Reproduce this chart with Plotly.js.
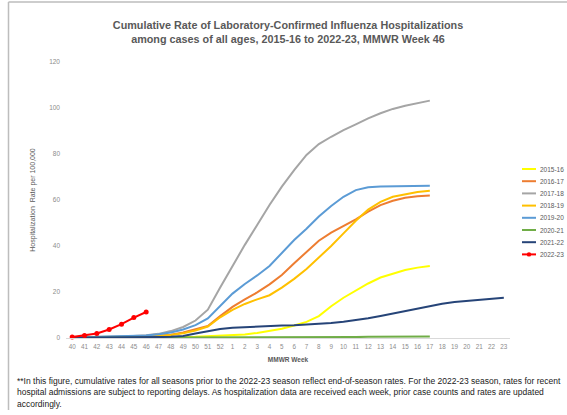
<!DOCTYPE html>
<html>
<head>
<meta charset="utf-8">
<script src="https://cdn.plot.ly/plotly-3.0.1.min.js"></script>
<style>
  html, body { margin: 0; padding: 0; background: #fff; }
  #chart { width: 567px; height: 415px; }
</style>
</head>
<body>
<div id="chart"></div>
<script>
// ---- DATA ----
const weeks = ['40','41','42','43','44','45','46','47','48','49','50','51','52',
               '1','2','3','4','5','6','7','8','9','10','11','12','13','14','15','16','17',
               '18','19','20','21','22','23'];

const seasons = ['2015-16','2016-17','2017-18','2018-19','2019-20','2020-21','2021-22','2022-23'];

const s2015_16 = [0.1,0.1,0.1,0.1,0.1,0.2,0.2,0.2,0.3,0.4,0.5,0.7,0.9,1.1,1.5,2.2,3.0,4.0,5.4,7.0,9.5,13.8,17.5,20.6,23.7,26.3,28.1,29.6,30.6,31.3];
const s2016_17 = [0.1,0.1,0.2,0.2,0.3,0.4,0.6,0.9,1.4,2.4,3.8,5.2,9.5,13.5,16.8,19.8,23.3,27.4,32.5,37.5,42.3,45.8,48.7,51.6,54.9,57.8,59.7,61.0,61.6,62.0];
const s2017_18 = [0.2,0.3,0.4,0.5,0.7,0.9,1.2,1.8,3.0,4.8,7.6,12.3,22.0,31.5,40.5,49.1,57.8,65.8,73.0,79.6,84.3,87.5,90.4,92.9,95.5,97.7,99.6,101.0,102.2,103.2];
const s2018_19 = [0.1,0.1,0.1,0.2,0.2,0.3,0.5,0.8,1.3,2.1,3.3,5.0,9.0,12.2,14.8,16.8,18.6,21.9,25.7,30.0,34.9,40.0,45.5,51.0,55.8,59.2,61.4,62.6,63.5,64.0];
const s2019_20 = [0.2,0.3,0.4,0.5,0.6,0.8,1.1,1.6,2.4,3.7,5.6,8.5,14.0,19.3,23.5,27.2,31.3,36.8,42.6,47.5,52.8,57.4,61.4,64.3,65.5,65.9,66.0,66.0,66.1,66.2];
const s2020_21 = [0.1,0.1,0.1,0.1,0.1,0.1,0.1,0.1,0.1,0.1,0.1,0.1,0.2,0.2,0.2,0.2,0.2,0.3,0.3,0.3,0.3,0.4,0.4,0.4,0.5,0.5,0.6,0.6,0.7,0.7];
const s2021_22 = [0.1,0.1,0.1,0.2,0.2,0.2,0.3,0.4,0.5,0.9,2.0,3.0,3.9,4.5,4.8,5.1,5.2,5.4,5.5,5.8,6.1,6.5,7.1,7.8,8.6,9.6,10.7,11.7,12.9,13.9,14.9,15.7,16.2,16.8,17.1,17.5];
const s2022_23 = [0.4,1.1,2.0,3.7,6.0,8.9,11.3];

const yTicks = [0,20,40,60,80,100,120];

const titleLine1 = 'Cumulative Rate of Laboratory-Confirmed Influenza Hospitalizations';
const titleLine2 = 'among cases of all ages, 2015-16 to 2022-23, MMWR Week 46';
const xTitle = 'MMWR Week';
const yTitle = 'Hospitalization  Rate per 100,000';
const footLines = [
  '**In this figure, cumulative rates for all seasons prior to the 2022-23 season reflect end-of-season rates. For the 2022-23 season, rates for recent',
  'hospital admissions are subject to reporting delays. As hospitalization data are received each week, prior case counts and rates are updated',
  'accordingly.'
];

// ---- STYLE ----
const seriesValues = [s2015_16, s2016_17, s2017_18, s2018_19, s2019_20, s2020_21, s2021_22, s2022_23];
const colors = ['#FFFF00','#ED7D31','#A5A5A5','#FFC000','#5B9BD5','#70AD47','#264478','#FF0000'];

const W = 567, H = 415;
const ML = 66, MR = 57, MT = 62, MB = 77;
const PW = W - ML - MR, PH = H - MT - MB;
const X = px => (px - ML) / PW;
const Y = py => (H - MB - py) / PH;

const traces = seriesValues.map((vals, k) => {
  const isCur = k === seriesValues.length - 1;
  const tr = {
    type: 'scatter',
    mode: isCur ? 'lines+markers' : 'lines',
    name: seasons[k],
    x: weeks.slice(0, vals.length),
    y: vals,
    line: { color: colors[k], width: 2 },
    cliponaxis: false,
    showlegend: false
  };
  if (isCur) tr.marker = { color: colors[k], size: 5 };
  return tr;
});

const shapes = [];
const annotations = [];

// custom compact legend
seasons.forEach((s, k) => {
  const py = 169 + 12.2 * k;
  shapes.push({ type: 'line', xref: 'paper', yref: 'paper',
    x0: X(522), x1: X(536), y0: Y(py), y1: Y(py),
    line: { color: colors[k], width: 2 } });
  if (k === seasons.length - 1) {
    shapes.push({ type: 'circle', xref: 'paper', yref: 'paper',
      x0: X(526.8), x1: X(531.2), y0: Y(py + 2.2), y1: Y(py - 2.2),
      fillcolor: colors[k], line: { color: colors[k], width: 0 } });
  }
  annotations.push({ xref: 'paper', yref: 'paper', x: X(537.5), y: Y(py),
    xanchor: 'left', yanchor: 'middle', showarrow: false, text: s,
    font: { family: 'Liberation Sans, Arial, sans-serif', size: 6.5, color: '#595959' } });
});

// footnote
footLines.forEach((t, k) => {
  annotations.push({ xref: 'paper', yref: 'paper', x: X(15), y: Y(381 + 11.5 * k),
    xanchor: 'left', yanchor: 'middle', showarrow: false, text: t, align: 'left',
    font: { family: 'Liberation Sans, Arial, sans-serif', size: 8.5, color: '#1a1a1a' } });
});

// frame lines (screenshot border)
shapes.push({ type: 'line', xref: 'paper', yref: 'paper', x0: X(8.5), x1: X(8.5), y0: Y(2), y1: Y(410),
  line: { color: '#bdbdbd', width: 1.5 } });
shapes.push({ type: 'line', xref: 'paper', yref: 'paper', x0: X(8.5), x1: X(567), y0: Y(2), y1: Y(2),
  line: { color: '#bdbdbd', width: 1.5 } });

const layout = {
  width: W, height: H,
  margin: { l: ML, r: MR, t: MT, b: MB },
  paper_bgcolor: '#ffffff', plot_bgcolor: '#ffffff',
  font: { family: 'Liberation Sans, Arial, sans-serif', color: '#595959' },
  title: {
    text: '<b>' + titleLine1 + '<br>' + titleLine2 + '</b>',
    xref: 'container', yref: 'container',
    x: 288 / W, xanchor: 'center',
    y: 1 - 28.5 / H, yanchor: 'middle',
    font: { family: 'Liberation Sans, Arial, sans-serif', size: 10.8, color: '#595959' }
  },
  showlegend: false,
  xaxis: {
    type: 'category',
    categoryorder: 'array', categoryarray: weeks,
    range: [-0.5, weeks.length - 0.5],
    showgrid: false, zeroline: false,
    showline: true, linecolor: '#d9d9d9', linewidth: 1,
    ticks: '', ticklabelstandoff: 2,
    tickfont: { size: 6.3, color: '#8c8c8c' },
    title: { text: '<b>' + xTitle + '</b>', standoff: 8, font: { size: 6.5, color: '#595959' } },
    automargin: false, fixedrange: true
  },
  yaxis: {
    range: [0, 120],
    tickvals: yTicks, ticktext: yTicks.map(String),
    showgrid: false, zeroline: false, showline: false,
    ticks: '', ticklabelstandoff: 5,
    tickfont: { size: 6.5, color: '#8c8c8c' },
    title: { text: yTitle, standoff: 12, font: { size: 7, color: '#595959' } },
    automargin: false, fixedrange: true
  },
  shapes: shapes,
  annotations: annotations
};

Plotly.newPlot('chart', traces, layout, { displayModeBar: false, staticPlot: true });
</script>
</body>
</html>
